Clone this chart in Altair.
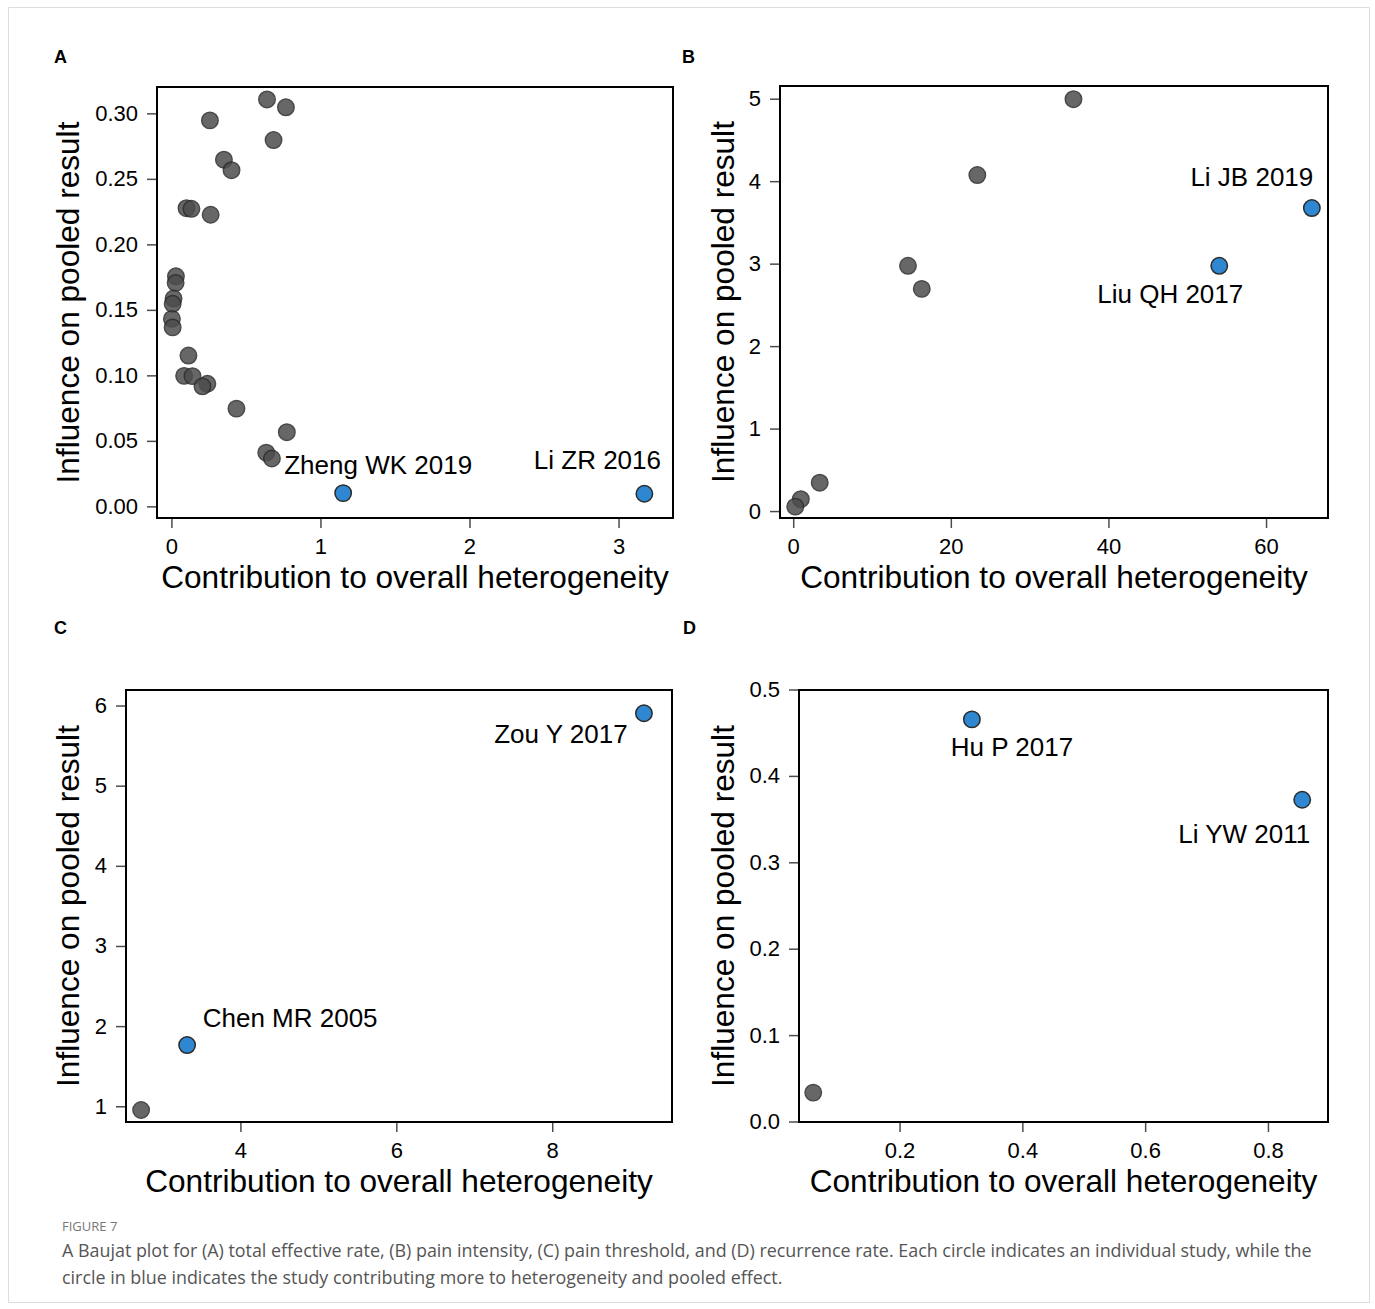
import altair as alt
import pandas as pd

# ---------------- data ----------------
# (A) total effective rate
A_contrib = [0.638, 0.765, 0.255, 0.682, 0.349, 0.400, 0.098, 0.131, 0.260, 0.027,
             0.025, 0.011, 0.005, 0.000, 0.005, 0.111, 0.082, 0.138, 0.238, 0.205,
             0.433, 0.771, 0.633, 0.671, 1.149, 3.170]
A_influence = [0.311, 0.305, 0.295, 0.280, 0.265, 0.257, 0.228, 0.2275, 0.223, 0.176,
               0.171, 0.159, 0.155, 0.1435, 0.137, 0.1155, 0.100, 0.0998, 0.094, 0.092,
               0.075, 0.057, 0.0414, 0.0369, 0.0105, 0.0100]
A_study = [""] * 24 + ["Zheng WK 2019", "Li ZR 2016"]
A_xticks, A_xlabels = [0, 1, 2, 3], ["0", "1", "2", "3"]
A_yticks = [0.00, 0.05, 0.10, 0.15, 0.20, 0.25, 0.30]
A_ylabels = ["0.00", "0.05", "0.10", "0.15", "0.20", "0.25", "0.30"]

# (B) pain intensity
B_contrib = [35.5, 23.3, 14.5, 16.25, 3.3, 0.9, 0.2, 54.0, 65.75]
B_influence = [5.00, 4.08, 2.98, 2.70, 0.35, 0.15, 0.06, 2.98, 3.68]
B_study = [""] * 7 + ["Liu QH 2017", "Li JB 2019"]
B_xticks, B_xlabels = [0, 20, 40, 60], ["0", "20", "40", "60"]
B_yticks, B_ylabels = [0, 1, 2, 3, 4, 5], ["0", "1", "2", "3", "4", "5"]

# (C) pain threshold
C_contrib = [2.72, 3.31, 9.17]
C_influence = [0.96, 1.77, 5.91]
C_study = ["", "Chen MR 2005", "Zou Y 2017"]
C_xticks, C_xlabels = [4, 6, 8], ["4", "6", "8"]
C_yticks, C_ylabels = [1, 2, 3, 4, 5, 6], ["1", "2", "3", "4", "5", "6"]

# (D) recurrence rate
D_contrib = [0.0586, 0.317, 0.855]
D_influence = [0.034, 0.466, 0.373]
D_study = ["", "Hu P 2017", "Li YW 2011"]
D_xticks, D_xlabels = [0.2, 0.4, 0.6, 0.8], ["0.2", "0.4", "0.6", "0.8"]
D_yticks = [0.0, 0.1, 0.2, 0.3, 0.4, 0.5]
D_ylabels = ["0.0", "0.1", "0.2", "0.3", "0.4", "0.5"]

X_TITLE = "Contribution to overall heterogeneity"
Y_TITLE = "Influence on pooled result"
CAPTION_HEAD = "FIGURE 7"
CAPTION_LINES = [
    "A Baujat plot for (A) total effective rate, (B) pain intensity, (C) pain threshold, and (D) recurrence rate. Each circle indicates an individual study, while the",
    "circle in blue indicates the study contributing more to heterogeneity and pooled effect.",
]

# ---------------- styling ----------------
FONT = "Liberation Sans"
GRAY = "#4d4d4d"
BLUE = "#2f87d2"
EDGE = "#2b2b2b"
W, H = 1361, 1295  # drawing area inside the figure frame
TICK = 10
LABEL_SIZE = 22
TITLE_SIZE = 31.6


def panel(contrib, influence, study, letter, xdom, ydom, xticks, xlabels, yticks, ylabels,
          box, ytitle_dy, letter_off, label_offsets):
    left, right, top, bottom = box
    df = pd.DataFrame({"contrib": contrib, "influence": influence, "study": study})
    df["group"] = ["key" if s else "other" for s in study]
    frame = pd.DataFrame({"x0": [xdom[0]], "x1": [xdom[1]],
                          "y0": [ydom[0]], "y1": [ydom[1]],
                          "xm": [(xdom[0] + xdom[1]) / 2], "ym": [(ydom[0] + ydom[1]) / 2],
                          "letter": [letter], "xt": [X_TITLE], "yt": [Y_TITLE]})
    xt = pd.DataFrame({"v": xticks, "lab": xlabels, "base": ydom[0]})
    yt = pd.DataFrame({"v": yticks, "lab": ylabels, "base": xdom[0]})

    xs = alt.Scale(domain=xdom, range=[left, right], nice=False, zero=False)
    ys = alt.Scale(domain=ydom, range=[bottom, top], nice=False, zero=False)

    def X(f):
        return alt.X(f, scale=xs, axis=None)

    def Y(f):
        return alt.Y(f, scale=ys, axis=None)

    frame_box = alt.Chart(frame).mark_rect(fillOpacity=0, stroke="black", strokeWidth=2).encode(
        x=X("x0:Q"), x2="x1:Q", y=Y("y0:Q"), y2="y1:Q")

    # axis ticks and tick labels
    x_ticks = alt.Chart(xt).mark_tick(orient="vertical", size=TICK, thickness=1.5,
                                      yOffset=TICK / 2, color="black").encode(
        x=X("v:Q"), y=Y("base:Q"))
    y_ticks = alt.Chart(yt).mark_tick(orient="horizontal", size=TICK, thickness=1.5,
                                      xOffset=-TICK / 2, color="black").encode(
        x=X("base:Q"), y=Y("v:Q"))
    x_labs = alt.Chart(xt).mark_text(dy=19, baseline="top", align="center", font=FONT,
                                     fontSize=LABEL_SIZE, color="black").encode(
        x=X("v:Q"), y=Y("base:Q"), text="lab:N")
    y_labs = alt.Chart(yt).mark_text(dx=-19, baseline="middle", align="right", font=FONT,
                                     fontSize=LABEL_SIZE, color="black").encode(
        x=X("base:Q"), y=Y("v:Q"), text="lab:N")

    # axis titles
    x_title = alt.Chart(frame).mark_text(dy=70, baseline="alphabetic", align="center",
                                         font=FONT, fontSize=TITLE_SIZE, color="black").encode(
        x=X("xm:Q"), y=Y("y0:Q"), text="xt:N")
    y_title = alt.Chart(frame).mark_text(angle=270, dy=ytitle_dy, baseline="bottom",
                                         align="center", font=FONT, fontSize=TITLE_SIZE,
                                         color="black").encode(
        x=X("x0:Q"), y=Y("ym:Q"), text="yt:N")

    pts = alt.Chart(df).mark_circle(size=270, stroke=EDGE, strokeWidth=1.5).encode(
        x=X("contrib:Q"),
        y=Y("influence:Q"),
        color=alt.Color("group:N", scale=alt.Scale(domain=["other", "key"], range=[GRAY, BLUE]),
                        legend=None),
        opacity=alt.Opacity("group:N", scale=alt.Scale(domain=["other", "key"], range=[0.85, 1.0]),
                            legend=None),
    )

    layers = [frame_box, x_ticks, y_ticks, x_labs, y_labs, x_title, y_title, pts]
    for name, (dx, dy) in label_offsets.items():
        layers.append(
            alt.Chart(df).transform_filter(alt.datum.study == name)
            .mark_text(dx=dx, dy=dy, font=FONT, fontSize=26, color="black",
                       align="center", baseline="middle")
            .encode(x=X("contrib:Q"), y=Y("influence:Q"), text="study:N")
        )

    layers.append(
        alt.Chart(frame).mark_text(dx=letter_off[0], dy=letter_off[1], font=FONT, fontSize=18,
                                   fontWeight="bold", color="black", align="left",
                                   baseline="alphabetic")
        .encode(x=X("x0:Q"), y=Y("y1:Q"), text="letter:N")
    )
    return alt.layer(*layers)


# plot boxes (left, right, top, bottom) in drawing-area pixels
pA = panel(A_contrib, A_influence, A_study, "A", [-0.1, 3.362], [-0.0085, 0.3205],
           A_xticks, A_xlabels, A_yticks, A_ylabels,
           (149, 665, 80, 511), -71, (-103, -24),
           {"Zheng WK 2019": (35, -27), "Li ZR 2016": (-47, -33)})
pB = panel(B_contrib, B_influence, B_study, "B", [-1.74, 67.8], [-0.078, 5.16],
           B_xticks, B_xlabels, B_yticks, B_ylabels,
           (772, 1320, 79, 511), -39, (-98, -23),
           {"Li JB 2019": (-60, -30), "Liu QH 2017": (-49, 29)})
pC = panel(C_contrib, C_influence, C_study, "C", [2.526, 9.53], [0.81, 6.2],
           C_xticks, C_xlabels, C_yticks, C_ylabels,
           (118, 664, 683, 1115), -40, (-72, -56),
           {"Chen MR 2005": (103, -26), "Zou Y 2017": (-83, 22)})
pD = panel(D_contrib, D_influence, D_study, "D", [0.0354, 0.897], [0.0, 0.5],
           D_xticks, D_xlabels, D_yticks, D_ylabels,
           (791, 1320, 683, 1115), -58, (-116, -56),
           {"Hu P 2017": (40, 29), "Li YW 2011": (-58, 35)})

chart = (
    alt.layer(pA, pB, pC, pD)
    .resolve_scale(x="independent", y="independent")
    .properties(
        width=W,
        height=H,
        autosize=alt.AutoSizeParams(type="none"),
        padding={"left": 8, "top": 7, "right": 6, "bottom": 7},
        title=alt.TitleParams(
            text=CAPTION_HEAD,
            subtitle=CAPTION_LINES,
            orient="bottom",
            anchor="start",
            frame="group",
            offset=-81,
            dx=54,
            font="Open Sans",
            fontSize=13,
            fontWeight="normal",
            color="#777777",
            subtitleFont="Open Sans",
            subtitleFontSize=17.9,
            subtitleColor="#555555",
            subtitleLineHeight=27,
            subtitlePadding=9,
        ),
    )
    .configure_view(stroke="#a3a3a3", strokeWidth=1.5)
    .configure(background="white")
)

chart.save("out.html", embed_options={"renderer": "svg", "actions": False})
